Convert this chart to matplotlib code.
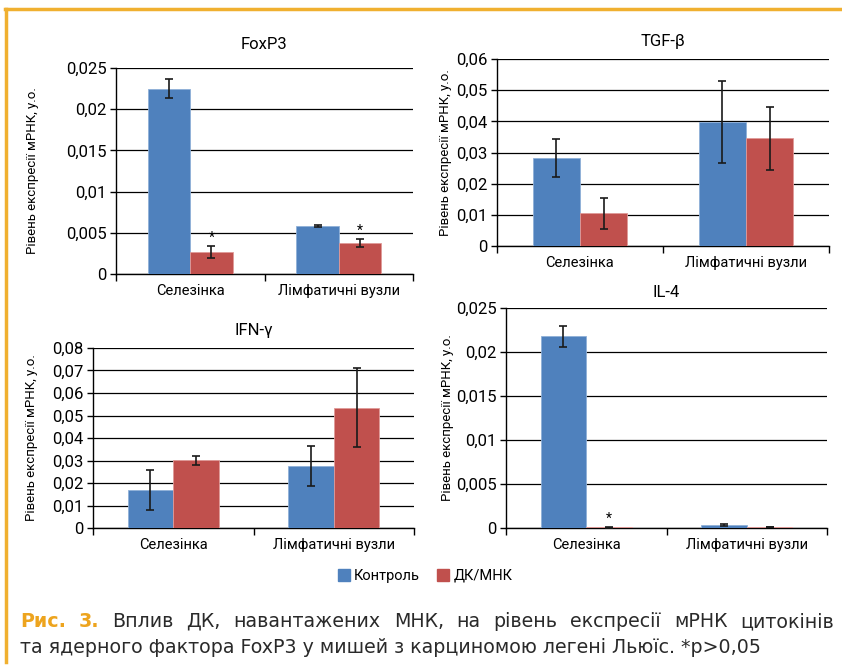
import numpy as np
import matplotlib
matplotlib.use('Agg')
import matplotlib.pyplot as plt
from matplotlib.lines import Line2D
from matplotlib.patches import Patch
from matplotlib.ticker import MultipleLocator, FuncFormatter

plt.rcParams['font.family'] = ['Roboto', 'DejaVu Sans']

categories = ['Селезінка', 'Лімфатичні вузли']
series_names = ['Контроль', 'ДК/МНК']
ylabel = 'Рівень експресії мРНК, у.о.'

# FoxP3
foxp3_ctrl = [0.0225, 0.0058]
foxp3_ctrl_err = [0.0012, 0.0001]
foxp3_dk = [0.0027, 0.0038]
foxp3_dk_err = [0.0007, 0.0005]
foxp3_star = [True, True]

# TGF-beta
tgf_ctrl = [0.0281, 0.0398]
tgf_ctrl_err = [0.0061, 0.0131]
tgf_dk = [0.0105, 0.0345]
tgf_dk_err = [0.005, 0.01]
tgf_star = [False, False]

# IFN-gamma
ifn_ctrl = [0.0169, 0.0275]
ifn_ctrl_err = [0.009, 0.0088]
ifn_dk = [0.0301, 0.0535]
ifn_dk_err = [0.002, 0.0175]
ifn_star = [False, False]

# IL-4
il4_ctrl = [0.0218, 0.0003]
il4_ctrl_err = [0.0012, 0.0001]
il4_dk = [0.0001, 0.0001]
il4_dk_err = [0.00005, 0.00002]
il4_star = [True, False]

caption_bold = ['Рис.', '3.']
caption_line1 = 'Вплив ДК, навантажених МНК, на рівень експресії мРНК цитокінів'
caption_line2 = 'та ядерного фактора FoxP3 у мишей з карциномою легені Льюїс. *p>0,05'

W, H = 842, 667
BLUE = '#4F81BD'
RED = '#C0504D'
ORANGE = '#F0B030'

fig = plt.figure(figsize=(W / 100, H / 100), dpi=100)

# panel layout in pixels: left, top, right, bottom, ylabel x, title pad
panels = [
    ('FoxP3', foxp3_ctrl, foxp3_ctrl_err, foxp3_dk, foxp3_dk_err, foxp3_star, 0.025, 0.005,
     (116, 68, 413, 274), 33, 14),
    ('TGF-β', tgf_ctrl, tgf_ctrl_err, tgf_dk, tgf_dk_err, tgf_star, 0.06, 0.01,
     (497, 59, 829, 246), 446, 9.5),
    ('IFN-γ', ifn_ctrl, ifn_ctrl_err, ifn_dk, ifn_dk_err, ifn_star, 0.08, 0.01,
     (93, 348, 414, 528), 32, 9.5),
    ('IL-4', il4_ctrl, il4_ctrl_err, il4_dk, il4_dk_err, il4_star, 0.025, 0.005,
     (506, 308, 827, 528), 447, 8),
]


def fmt(v, pos):
    s = f'{v:.3f}'.rstrip('0').rstrip('.')
    return s.replace('.', ',')


x = np.arange(len(categories))
w = 0.285

for title, ctrl, ctrl_err, dk, dk_err, star, ymax, ystep, box, ylx, tpad in panels:
    l, t, r, b = box
    ax = fig.add_axes([l / W, 1 - b / H, (r - l) / W, (b - t) / H])
    ax.bar(x - w / 2, ctrl, w, color=BLUE, edgecolor='#8fb0d8', linewidth=0.6, zorder=3)
    ax.bar(x + w / 2, dk, w, color=RED, edgecolor='#e09a98', linewidth=0.6, zorder=3)
    ax.errorbar(x - w / 2, ctrl, yerr=ctrl_err, fmt='none', ecolor='#1a1a1a',
                elinewidth=1.2, capsize=3, capthick=1.2, zorder=4)
    ax.errorbar(x + w / 2, dk, yerr=dk_err, fmt='none', ecolor='#1a1a1a',
                elinewidth=1.2, capsize=3, capthick=1.2, zorder=4)
    for i, s in enumerate(star):
        if s:
            ax.annotate('*', (x[i] + w / 2, dk[i] + dk_err[i]), xytext=(0, 0.5),
                        textcoords='offset points', ha='center', va='bottom',
                        fontsize=10, zorder=5)

    ax.set_xlim(-0.5, 1.5)
    ax.set_ylim(0, ymax)
    ax.yaxis.set_major_locator(MultipleLocator(ystep))
    ax.yaxis.set_major_formatter(FuncFormatter(fmt))
    ax.set_xticks([-0.5, 0.5, 1.5])
    ax.set_xticklabels([])
    ax.set_xticks(x, minor=True)
    ax.set_xticklabels(categories, minor=True, fontsize=10.5)
    ax.tick_params(axis='x', which='major', length=5, width=1, direction='out')
    ax.tick_params(axis='x', which='minor', length=0, pad=7)
    ax.tick_params(axis='y', length=4, width=1, pad=3, labelsize=12)
    for sp in ['top', 'right']:
        ax.spines[sp].set_visible(False)
    for sp in ['left', 'bottom']:
        ax.spines[sp].set_linewidth(1)
        ax.spines[sp].set_color('black')
    ax.yaxis.grid(True, color='black', linewidth=0.9)
    ax.set_axisbelow(True)
    ax.set_title(title, fontsize=12, pad=tpad)
    fig.text(ylx / W, 1 - (t + b) / 2 / H, ylabel, rotation=90, ha='center', va='center',
             fontsize=9.5)

handles = [Patch(color=BLUE, label=series_names[0]), Patch(color=RED, label=series_names[1])]
fig.legend(handles=handles, loc='center', bbox_to_anchor=(0.505, 1 - 576 / H), ncol=2,
           frameon=False, handlelength=0.8, handleheight=0.8, columnspacing=1.2,
           handletextpad=0.3, fontsize=10.5)

# frame lines
fig.add_artist(Line2D([5 / W, 1], [1 - 9 / H, 1 - 9 / H], color=ORANGE, lw=2.5))
fig.add_artist(Line2D([5.5 / W, 5.5 / W], [1 - 9 / H, 1 - 662 / H], color=ORANGE, lw=2.5))

# caption, first line justified
cap_font = ['DejaVu Sans']
cap_size = 13.7
fig.canvas.draw()
renderer = fig.canvas.get_renderer()
objs = []
for wd in caption_bold:
    objs.append(fig.text(0, 1 - 627 / H, wd, fontsize=cap_size, fontweight='bold',
                         color='#EDA41E', family=cap_font, va='baseline'))
for wd in caption_line1.split():
    objs.append(fig.text(0, 1 - 627 / H, wd, fontsize=cap_size, color='#2a2a2a',
                         family=cap_font, va='baseline'))
widths = [o.get_window_extent(renderer).width for o in objs]
gap = (834 - 20 - sum(widths)) / (len(objs) - 1)
pos = 20
for o, wd in zip(objs, widths):
    o.set_x(pos / W)
    pos += wd + gap
fig.text(20 / W, 1 - 653 / H, caption_line2, fontsize=cap_size, color='#2a2a2a',
         family=cap_font, va='baseline')

fig.savefig('out.png', dpi=100)
